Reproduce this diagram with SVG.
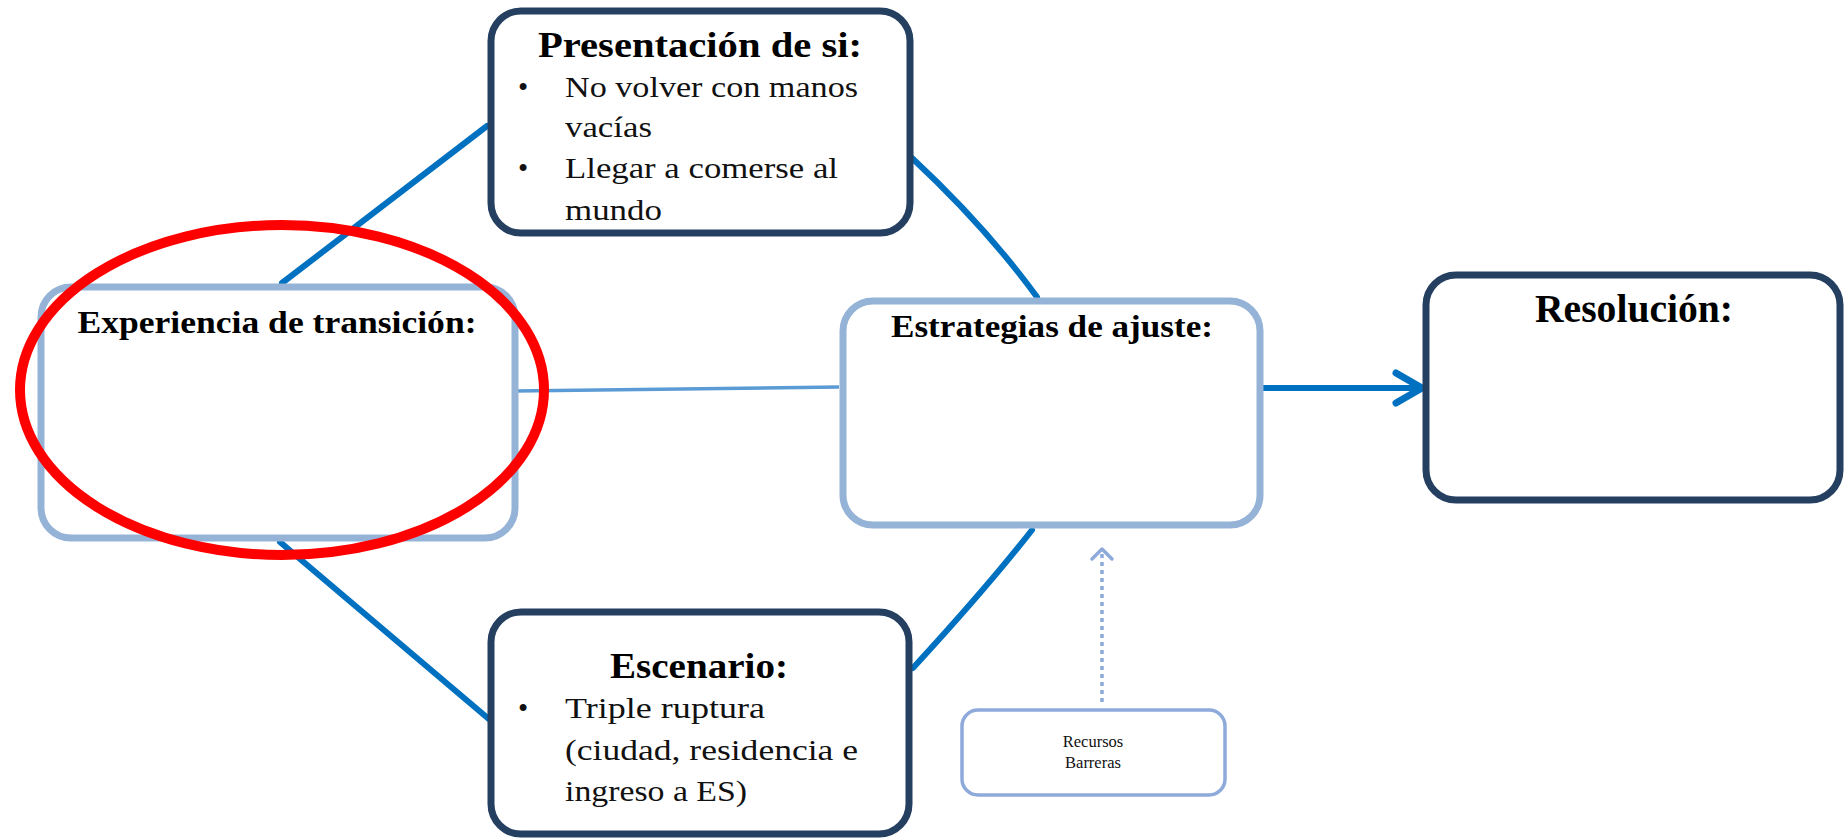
<svg xmlns="http://www.w3.org/2000/svg" width="1845" height="838" viewBox="0 0 1845 838">
<style>
.dark{fill:#ffffff;stroke:#243f60;stroke-width:7}
.light{fill:#ffffff;stroke:#95b3d7;stroke-width:7}
.title{font-family:"Liberation Serif",serif;font-weight:bold;fill:#000;text-anchor:middle}
.body{font-family:"Liberation Serif",serif;font-size:29px;fill:#111}
.bul{font-family:"Liberation Serif",serif;font-size:29px;fill:#111;text-anchor:middle}
.conn{fill:none;stroke:#0070c0;stroke-width:6;stroke-linecap:round}
</style>
<rect width="1845" height="838" fill="#ffffff"/>
<g id="connectors">
<line class="conn" x1="282" y1="283" x2="487" y2="126"/>
<path class="conn" d="M912,158 Q985.5,226.5 1037,297"/>
<line class="conn" x1="280" y1="542" x2="490" y2="720"/>
<path class="conn" d="M1032,530 Q987.5,587 913,668"/>
<line x1="515" y1="391" x2="839" y2="387" stroke="#5b9bd5" stroke-width="3.5"/>
<line class="conn" x1="1261" y1="388" x2="1419" y2="388" stroke-width="7"/>
<polyline points="1396,373 1422,388 1396,403" fill="none" stroke="#0070c0" stroke-width="7" stroke-linecap="round" stroke-linejoin="round"/>
<line x1="1102" y1="702" x2="1102" y2="553" stroke="#8eaadb" stroke-width="3.5" stroke-dasharray="4 4"/>
<polyline points="1092,559 1102,549 1112,559" fill="none" stroke="#8eaadb" stroke-width="3.5" stroke-linecap="round" stroke-linejoin="round"/>
</g>
<g id="experiencia">
<rect class="light" x="41" y="287" width="474" height="251" rx="30"/>
<text class="title" x="277" y="333" font-size="32" textLength="399" lengthAdjust="spacingAndGlyphs">Experiencia de transición:</text>
</g>
<g id="presentacion">
<rect class="dark" x="491" y="11" width="419" height="222" rx="30"/>
<text class="title" x="700" y="57" font-size="35" textLength="324" lengthAdjust="spacingAndGlyphs">Presentación de si:</text>
<text class="bul" x="523" y="97">•</text>
<text class="body" x="565" y="97" textLength="293" lengthAdjust="spacingAndGlyphs">No volver con manos</text>
<text class="body" x="565" y="137" textLength="87" lengthAdjust="spacingAndGlyphs">vacías</text>
<text class="bul" x="523" y="178">•</text>
<text class="body" x="565" y="178" textLength="273" lengthAdjust="spacingAndGlyphs">Llegar a comerse al</text>
<text class="body" x="565" y="220" textLength="97" lengthAdjust="spacingAndGlyphs">mundo</text>
</g>
<g id="escenario">
<rect class="dark" x="491" y="612" width="418" height="222" rx="30"/>
<text class="title" x="699" y="678" font-size="35" textLength="178" lengthAdjust="spacingAndGlyphs">Escenario:</text>
<text class="bul" x="523" y="718">•</text>
<text class="body" x="565" y="718" textLength="200" lengthAdjust="spacingAndGlyphs">Triple ruptura</text>
<text class="body" x="565" y="760" textLength="293" lengthAdjust="spacingAndGlyphs">(ciudad, residencia e</text>
<text class="body" x="565" y="801" textLength="182" lengthAdjust="spacingAndGlyphs">ingreso a ES)</text>
</g>
<g id="estrategias">
<rect class="light" x="843" y="301" width="417" height="224" rx="30"/>
<text class="title" x="1052" y="337" font-size="32" textLength="322" lengthAdjust="spacingAndGlyphs">Estrategias de ajuste:</text>
</g>
<g id="resolucion">
<rect class="dark" x="1426" y="275" width="414" height="225" rx="30"/>
<text class="title" x="1634" y="322" font-size="39" textLength="198" lengthAdjust="spacingAndGlyphs">Resolución:</text>
</g>
<g id="recursos">
<rect x="962" y="710" width="263" height="85" rx="16" fill="#ffffff" stroke="#8eaadb" stroke-width="3.5"/>
<text x="1093" y="747" font-family="'Liberation Serif',serif" font-size="16.5" text-anchor="middle" fill="#111">Recursos</text>
<text x="1093" y="768" font-family="'Liberation Serif',serif" font-size="16.5" text-anchor="middle" fill="#111">Barreras</text>
</g>
<g id="highlight">
<ellipse cx="282" cy="390" rx="262" ry="165" fill="none" stroke="#ff0000" stroke-width="10"/>
</g>
</svg>
